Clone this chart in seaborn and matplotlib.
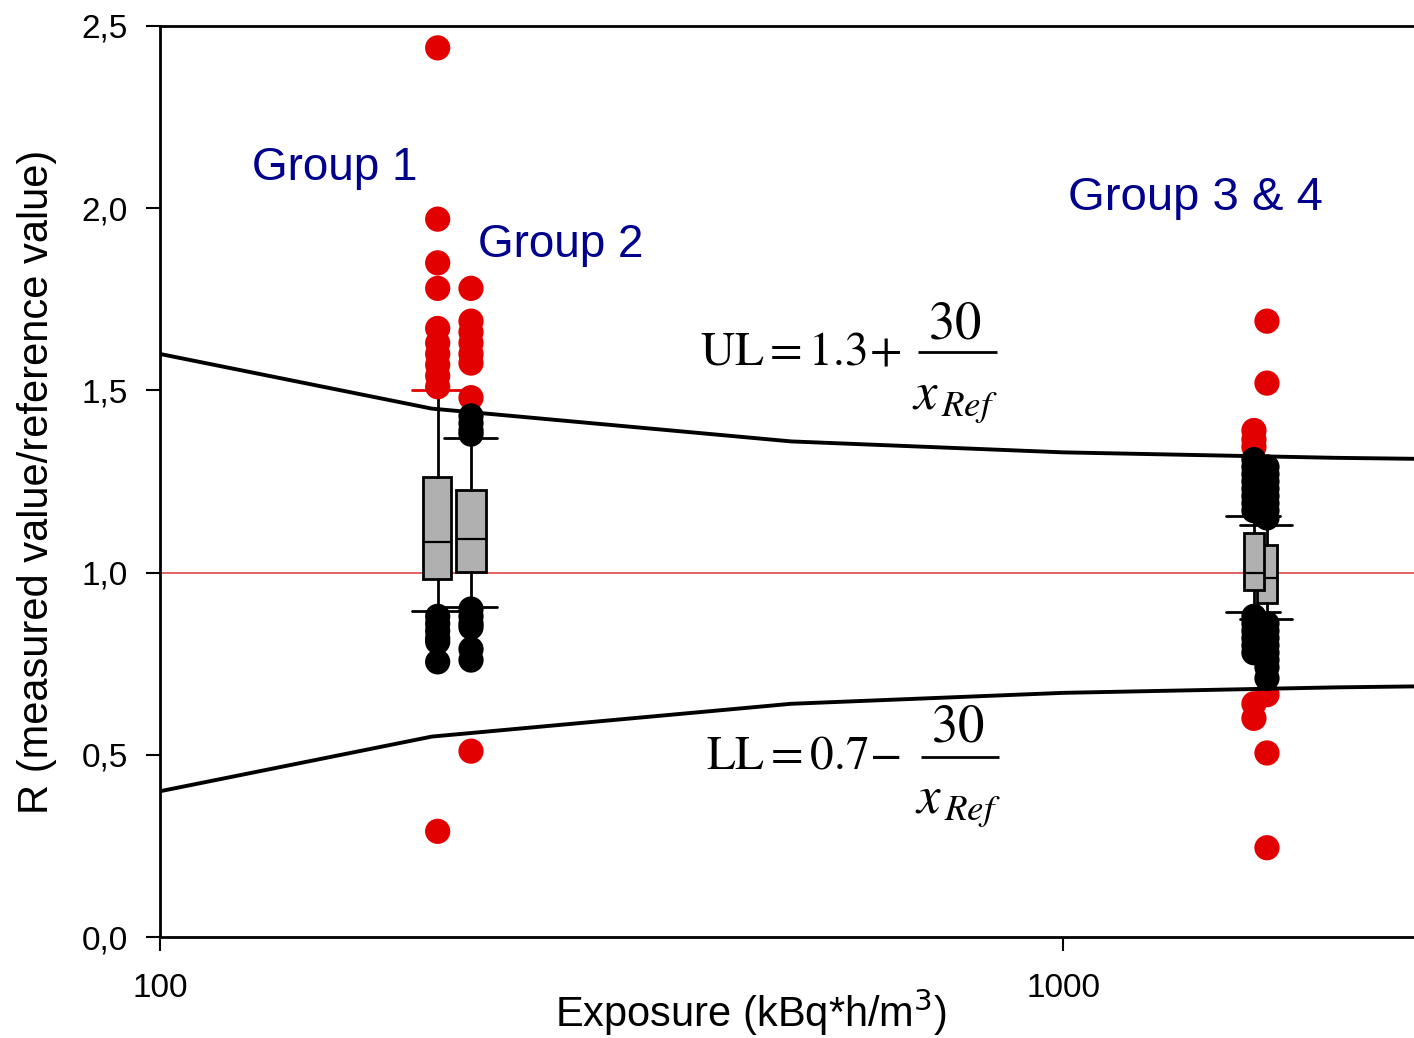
import numpy as np
import pandas as pd
import matplotlib.pyplot as plt
import seaborn as sns
from matplotlib.ticker import NullLocator

# exposure position of each group (kBq*h/m3)
group_x = [203, 221, 1627, 1682]

# box statistics per group: 10th / 25th / median / 75th / 90th percentile
box_lo = [0.895, 0.906, 0.892, 0.872]
box_q1 = [0.982, 1.002, 0.952, 0.916]
box_med = [1.084, 1.092, 1.000, 0.985]
box_q3 = [1.262, 1.227, 1.108, 1.075]
box_hi = [1.500, 1.370, 1.155, 1.130]

# single results beyond the whiskers: outside the limits (red) and inside (black)
red_pts = [
    [2.44, 1.97, 1.85, 1.78, 1.67, 1.63, 1.60, 1.57, 1.54, 1.51, 0.29],
    [1.78, 1.69, 1.66, 1.63, 1.60, 1.575, 1.48, 0.51],
    [1.39, 1.365, 1.345, 0.64, 0.60],
    [1.69, 1.52, 0.665, 0.505, 0.245],
]
black_pts = [
    [0.88, 0.86, 0.84, 0.82, 0.81, 0.755],
    [1.43, 1.41, 1.39, 1.38, 0.90, 0.88, 0.86, 0.85, 0.79, 0.76],
    [1.31, 1.29, 1.27, 1.25, 1.23, 1.21, 1.19, 1.17, 0.88, 0.86, 0.84, 0.82, 0.80, 0.78],
    [1.29, 1.27, 1.25, 1.23, 1.21, 1.19, 1.17, 1.15,
     0.86, 0.84, 0.82, 0.80, 0.78, 0.76, 0.74, 0.71],
]

# upper / lower limit curves
limit_x = [100, 200, 500, 1000, 2000, 2500]
ul = [1.60, 1.45, 1.36, 1.33, 1.315, 1.312]
ll = [0.40, 0.55, 0.64, 0.67, 0.685, 0.688]

y_ticks = [0.0, 0.5, 1.0, 1.5, 2.0, 2.5]
y_labels = ["0,0", "0,5", "1,0", "1,5", "2,0", "2,5"]
x_ticks = [100, 1000]
x_labels = ["100", "1000"]

RED = "#e30000"
NAVY = "#00008c"

rows = []
for gx, reds, blacks in zip(group_x, red_pts, black_pts):
    rows += [(gx, v, "out") for v in reds]
    rows += [(gx, v, "in") for v in blacks]
pts = pd.DataFrame(rows, columns=["x", "R", "kind"])

sns.set_style("ticks")
plt.rcParams["font.family"] = ["Liberation Sans", "DejaVu Sans"]

fig = plt.figure(figsize=(14.14, 10.38), dpi=100)
ax = fig.add_axes([160 / 1414, 1 - 937 / 1038, 1 - 160 / 1414, 911 / 1038])
ax.set_xscale("log")


def log_width(x, px):
    # width in data units of px pixels on the log axis (903 px per decade)
    d = px / 2 / 903
    return x * (10 ** d - 10 ** -d)


ax.axhline(1.0, color="#e04848", lw=1.2, zorder=1)

stats = []
for i in range(len(group_x)):
    stats.append(dict(med=box_med[i], q1=box_q1[i], q3=box_q3[i],
                      whislo=box_lo[i], whishi=box_hi[i], fliers=[]))
box_px = [28, 30, 20, 20]
cap_px = [50, 53, 53, 52]
bp = ax.bxp(stats, positions=group_x,
            widths=[log_width(x, w) for x, w in zip(group_x, box_px)],
            capwidths=[log_width(x, w) for x, w in zip(group_x, cap_px)],
            patch_artist=True, showfliers=False, manage_ticks=False,
            boxprops=dict(facecolor="#b0b0b0", edgecolor="black", linewidth=2),
            medianprops=dict(color="black", linewidth=1.6),
            whiskerprops=dict(color="black", linewidth=2),
            capprops=dict(color="black", linewidth=2),
            zorder=2)
bp["caps"][1].set_color(RED)
bp["boxes"][2].set_zorder(2.2)
bp["medians"][2].set_zorder(2.3)

sns.scatterplot(data=pts, x="x", y="R", hue="kind",
                palette={"out": RED, "in": "black"}, s=330, linewidth=0,
                legend=False, ax=ax, zorder=3)

sns.lineplot(x=limit_x, y=ul, color="black", lw=2.8, ax=ax, zorder=4)
sns.lineplot(x=limit_x, y=ll, color="black", lw=2.8, ax=ax, zorder=4)

ax.text(126.5, 2.11, "Group 1", color=NAVY, fontsize=33, va="center", ha="left")
ax.text(225, 1.90, "Group 2", color=NAVY, fontsize=33, va="center", ha="left")
ax.text(1013, 2.028, "Group 3 & 4", color=NAVY, fontsize=34, va="center", ha="left")

# limit formulas, set as stacked fractions
mt = dict(math_fontfamily="stix", color="black")
ax.text(396, 1.605, r"$\mathrm{UL}=1.3\!+$", fontsize=34, ha="left", va="center", **mt)
ax.text(759, 1.682, r"$30$", fontsize=38, ha="center", va="center", **mt)
ax.plot([690, 845], [1.605, 1.605], color="black", lw=2, solid_capstyle="butt")
ax.text(759, 1.475, r"$x_{\,Ref}$", fontsize=38, ha="center", va="center", **mt)

ax.text(402, 0.494, r"$\mathrm{LL}=0.7\!-$", fontsize=34, ha="left", va="center", **mt)
ax.text(765, 0.576, r"$30$", fontsize=38, ha="center", va="center", **mt)
ax.plot([696, 850], [0.494, 0.494], color="black", lw=2, solid_capstyle="butt")
ax.text(765, 0.364, r"$x_{\,Ref}$", fontsize=38, ha="center", va="center", **mt)

ax.set_xlim(100, 2447)
ax.set_ylim(0, 2.5)
ax.set_xticks(x_ticks)
ax.set_xticklabels(x_labels)
ax.xaxis.set_minor_locator(NullLocator())
ax.set_yticks(y_ticks)
ax.set_yticklabels(y_labels)
ax.tick_params(axis="both", labelsize=24, width=1.5, length=10, direction="out",
               colors="black")
ax.tick_params(axis="x", pad=16)
ax.tick_params(axis="y", pad=13)

ax.set_xlabel(r"Exposure (kBq*h/m$^3$)", fontsize=30, labelpad=-13, color="black")
ax.xaxis.label.set_x(0.471)
ax.set_ylabel("R (measured value/reference value)", fontsize=30, labelpad=18,
              color="black")

for side in ["left", "bottom", "top"]:
    ax.spines[side].set_linewidth(2)
    ax.spines[side].set_color("black")
ax.spines["right"].set_visible(False)

fig.savefig("out.png", dpi=100, facecolor="white")
